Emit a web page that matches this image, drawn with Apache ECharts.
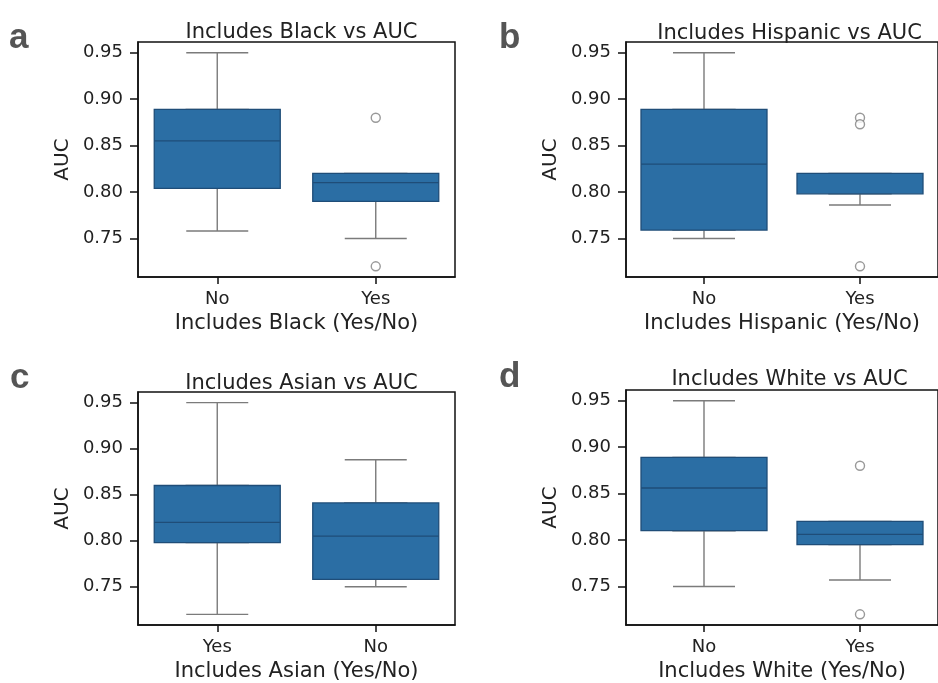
<!DOCTYPE html>
<html><head><meta charset="utf-8">
<script src="https://cdn.jsdelivr.net/npm/echarts@6/dist/echarts.min.js"></script>
<style>html,body{margin:0;padding:0;background:#fff}#c{width:938px;height:683px}</style>
</head><body><div id="c"></div>
<script>
// ---- data ----
const yTicks = [0.75, 0.80, 0.85, 0.90, 0.95];
const yMin = 0.7085, yMax = 0.9615;

const catsA = ['No', 'Yes'];
const boxA = [[0.758, 0.804, 0.855, 0.889, 0.95], [0.75, 0.79, 0.81, 0.82, 0.82]];
const outA = [['Yes', 0.88], ['Yes', 0.72]];

const catsB = ['No', 'Yes'];
const boxB = [[0.75, 0.759, 0.83, 0.889, 0.95], [0.786, 0.798, 0.82, 0.82, 0.82]];
const outB = [['Yes', 0.88], ['Yes', 0.873], ['Yes', 0.72]];

const catsC = ['Yes', 'No'];
const boxC = [[0.72, 0.798, 0.82, 0.86, 0.95], [0.75, 0.758, 0.805, 0.841, 0.888]];
const outC = [];

const catsD = ['No', 'Yes'];
const boxD = [[0.75, 0.81, 0.856, 0.889, 0.95], [0.757, 0.795, 0.806, 0.82, 0.82]];
const outD = [['Yes', 0.88], ['Yes', 0.72]];

const titles = ['Includes Black vs AUC', 'Includes Hispanic vs AUC', 'Includes Asian vs AUC', 'Includes White vs AUC'];
const xNames = ['Includes Black (Yes/No)', 'Includes Hispanic (Yes/No)', 'Includes Asian (Yes/No)', 'Includes White (Yes/No)'];
const letters = ['a', 'b', 'c', 'd'];

// ---- layout ----
const FONT = 'DejaVu Sans';
const panels = [
  {cats: catsA, box: boxA, out: outA, grid: {left: 138, top: 42, width: 317, height: 235}, letter: {x: 9, y: 61}, titleTop: 17},
  {cats: catsB, box: boxB, out: outB, grid: {left: 626, top: 42, width: 317, height: 235}, letter: {x: 499, y: 61}, titleTop: 18},
  {cats: catsC, box: boxC, out: outC, grid: {left: 138, top: 392, width: 317, height: 237}, letter: {x: 10, y: 401}, titleTop: 368},
  {cats: catsD, box: boxD, out: outD, grid: {left: 626, top: 390, width: 317, height: 237}, letter: {x: 499, y: 400}, titleTop: 364}
];

const grid = [], xAxis = [], yAxis = [], series = [], title = [], graphic = [];
const BOX = '#2b6ea4', EDGE = '#1f4d78', WHISK = '#7b7b7b';

panels.forEach((p, i) => {
  grid.push(Object.assign({show: true, borderColor: '#111', borderWidth: 1.5, backgroundColor: '#fff', containLabel: false}, p.grid));
  xAxis.push({
    gridIndex: i, type: 'category', data: p.cats, boundaryGap: true,
    axisLine: {show: true, lineStyle: {color: '#111', width: 1.5}},
    axisTick: {show: true, alignWithLabel: true, length: 7, lineStyle: {color: '#111', width: 1.5}},
    axisLabel: {fontFamily: FONT, fontSize: 18, color: '#222', margin: 13},
    name: xNames[i], nameLocation: 'middle', nameGap: 36,
    nameTextStyle: {fontFamily: FONT, fontSize: 21, color: '#222'}
  });
  xAxis.push({
    gridIndex: i, type: 'category', data: p.cats, boundaryGap: true, show: false
  });
  yAxis.push({
    gridIndex: i, type: 'value', min: yMin, max: yMax,
    splitLine: {show: false},
    axisLine: {show: true, lineStyle: {color: '#111', width: 1.5}},
    axisTick: {show: true, length: 8, customValues: yTicks, lineStyle: {color: '#111', width: 1.5}},
    axisLabel: {customValues: yTicks, fontFamily: FONT, fontSize: 18, color: '#222', margin: 15,
      formatter: v => Number(v).toFixed(2)},
    name: 'AUC', nameLocation: 'middle', nameGap: 65,
    nameTextStyle: {fontFamily: FONT, fontSize: 20, color: '#222'}
  });
  series.push({
    type: 'boxplot', xAxisIndex: 2 * i + 1, yAxisIndex: i, z: 2,
    boxWidth: [62, 62], silent: true,
    itemStyle: {color: 'rgba(0,0,0,0)', borderColor: WHISK, borderWidth: 1.4},
    emphasis: {disabled: true},
    data: p.box
  });
  series.push({
    type: 'boxplot', xAxisIndex: 2 * i, yAxisIndex: i, z: 3,
    boxWidth: [126, 126], silent: true,
    itemStyle: {color: BOX, borderColor: EDGE, borderWidth: 1.3},
    emphasis: {disabled: true},
    data: p.box.map(b => [b[1], b[1], b[2], b[3], b[3]])
  });
  series.push({
    type: 'scatter', xAxisIndex: 2 * i, yAxisIndex: i, z: 4,
    symbol: 'circle', symbolSize: 9, silent: true,
    itemStyle: {color: '#fff', borderColor: '#808080', borderWidth: 1.4},
    data: p.out
  });
  title.push({
    text: titles[i], left: p.grid.left + p.grid.width / 2, top: p.titleTop, textAlign: 'center',
    textStyle: {fontFamily: FONT, fontSize: 21, fontWeight: 'normal', color: '#222'}
  });
  graphic.push({
    type: 'text', left: p.letter.x, top: p.letter.y - 40,
    style: {text: letters[i], font: 'bold 35px "Liberation Sans"', fill: '#555'}
  });
});

const chart = echarts.init(document.getElementById('c'), null, {renderer: 'canvas'});
chart.setOption({animation: false, backgroundColor: '#fff', grid, xAxis, yAxis, series, title, graphic});
</script></body></html>
